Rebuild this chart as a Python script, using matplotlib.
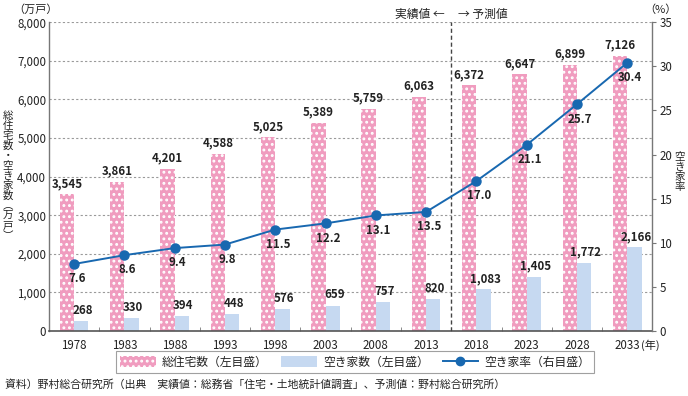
import matplotlib
matplotlib.use("Agg")
import matplotlib.pyplot as plt
import numpy as np
from matplotlib.patches import Patch
from matplotlib.lines import Line2D

plt.rcParams['font.family'] = ['Noto Sans CJK JP', 'DejaVu Sans']
plt.rcParams['hatch.linewidth'] = 1.3

years = ['1978', '1983', '1988', '1993', '1998', '2003', '2008', '2013', '2018', '2023', '2028', '2033']
total_houses = [3545, 3861, 4201, 4588, 5025, 5389, 5759, 6063, 6372, 6647, 6899, 7126]
vacant_houses = [268, 330, 394, 448, 576, 659, 757, 820, 1083, 1405, 1772, 2166]
vacancy_rate = [7.6, 8.6, 9.4, 9.8, 11.5, 12.2, 13.1, 13.5, 17.0, 21.1, 25.7, 30.4]

PINK = '#F09CBF'
BLUE = '#C6D9F1'
LINE = '#1868B0'
GRID = '#9a9a9a'
AX = '#777777'
TXT = '#222222'
FS = 8.3

fig = plt.figure(figsize=(6.88, 3.96), dpi=100)
ax = fig.add_axes([0.0712, 0.164, 0.877, 0.780])
ax2 = ax.twinx()

x = np.arange(len(years))
w = 0.285
ax.bar(x - w / 2, total_houses, w, color=PINK, edgecolor='white', linewidth=0, hatch='...', zorder=2)
ax.bar(x + w / 2, vacant_houses, w, color=BLUE, linewidth=0, zorder=2)

for xi, v in zip(x, total_houses):
    ax.annotate(f'{v:,}', (xi - w / 2, v), xytext=(0, 3), textcoords='offset points',
                ha='center', va='bottom', fontsize=FS, fontweight='bold', color=TXT)
for xi, v in zip(x, vacant_houses):
    ax.annotate(f'{v:,}', (xi + w / 2 + 0.03, v), xytext=(0, 3), textcoords='offset points',
                ha='center', va='bottom', fontsize=FS, fontweight='bold', color=TXT)

ax.set_xlim(-0.5, len(years) - 0.5)
ax.set_ylim(0, 8000)
ax.set_yticks(np.arange(0, 8001, 1000))
ax.set_yticklabels([f'{v:,}' for v in range(0, 8001, 1000)], fontsize=FS, color=TXT)
ax.set_xticks(x)
ax.set_xticklabels(years, fontsize=FS, color=TXT)
ax.set_xticks(np.arange(-0.5, len(years), 1), minor=True)
ax.tick_params(axis='x', which='major', length=0, pad=6)
ax.tick_params(axis='x', which='minor', length=3, direction='in', color=AX)
ax.tick_params(axis='y', length=0, pad=2)
for yv in range(1000, 8001, 1000):
    ax.axhline(yv, color=GRID, linestyle=(0, (2, 2)), linewidth=0.8, zorder=1)

ax.spines['top'].set_visible(False)
ax.spines['right'].set_visible(False)
ax.spines['left'].set_color(AX)
ax.spines['left'].set_linewidth(1.0)
ax.spines['bottom'].set_color('#555555')
ax.spines['bottom'].set_linestyle((0, (1.5, 1)))
ax.spines['bottom'].set_linewidth(1.2)

ax2.plot(x, vacancy_rate, color=LINE, linewidth=1.4, marker='o', markersize=6.5, zorder=4)
for xi, v in zip(x, vacancy_rate):
    ax2.annotate(f'{v:.1f}', (xi, v), xytext=(2, -6), textcoords='offset points',
                 ha='center', va='top', fontsize=FS, fontweight='bold', color=TXT)
ax2.set_ylim(0, 35)
ax2.set_yticks(np.arange(0, 36, 5))
ax2.set_yticklabels([str(v) for v in range(0, 36, 5)], fontsize=FS, color=TXT)
ax2.tick_params(axis='y', length=3, direction='out', color=AX, pad=2)
for s in ['top', 'left', 'bottom']:
    ax2.spines[s].set_visible(False)
ax2.spines['right'].set_color(AX)
ax2.spines['right'].set_linewidth(1.0)

ax.axvline(7.5, color='#444444', linestyle=(0, (3, 2)), linewidth=1.0, zorder=3)
ax.set_zorder(ax2.get_zorder() - 1)
ax.patch.set_visible(True)
ax2.patch.set_visible(False)

fig.text(445 / 688, 1 - 14 / 396, '実績値 ←', ha='right', va='center', fontsize=8.5, color=TXT)
fig.text(458 / 688, 1 - 14 / 396, '→ 予測値', ha='left', va='center', fontsize=8.5, color=TXT)
fig.text(36 / 688, 1 - 10 / 396, '（万戸）', ha='center', va='center', fontsize=8, color=TXT)
fig.text(660 / 688, 1 - 10 / 396, '（%）', ha='center', va='center', fontsize=8, color=TXT)
fig.text(680 / 688, 1 - 172 / 396, '\n'.join('空き家率'), ha='center', va='center',
         fontsize=7.5, linespacing=1.0, color=TXT)
fig.text(8 / 688, 1 - 176 / 396, '\n'.join('総住宅数・空き家数︵万戸︶'), ha='center', va='center',
         fontsize=7.5, linespacing=1.0, color=TXT)
fig.text(641 / 688, 1 - 345 / 396, '(年)', ha='left', va='center', fontsize=8, color=TXT)

handles = [Patch(facecolor=PINK, edgecolor='white', linewidth=0, hatch='...'),
           Patch(facecolor=BLUE, linewidth=0),
           Line2D([0], [0], color=LINE, marker='o', markersize=6, linewidth=1.4)]
labels = ['総住宅数（左目盛）', '空き家数（左目盛）', '空き家率（右目盛）']
leg = fig.legend(handles, labels, loc='center', bbox_to_anchor=(355 / 688, 1 - 362 / 396), ncol=3,
                 fontsize=8.5, frameon=True, fancybox=False, edgecolor='#888888',
                 handlelength=3.0, handleheight=1.1, columnspacing=1.2, borderpad=0.35, handletextpad=0.5)
leg.get_frame().set_linewidth(0.8)
for t in leg.get_texts():
    t.set_color(TXT)

fig.text(5 / 688, 1 - 385 / 396,
         '資料）野村総合研究所（出典　実績値：総務省「住宅・土地統計値調査」、予測値：野村総合研究所）',
         ha='left', va='center', fontsize=7.8, color=TXT)

fig.savefig('out.png', dpi=100)
